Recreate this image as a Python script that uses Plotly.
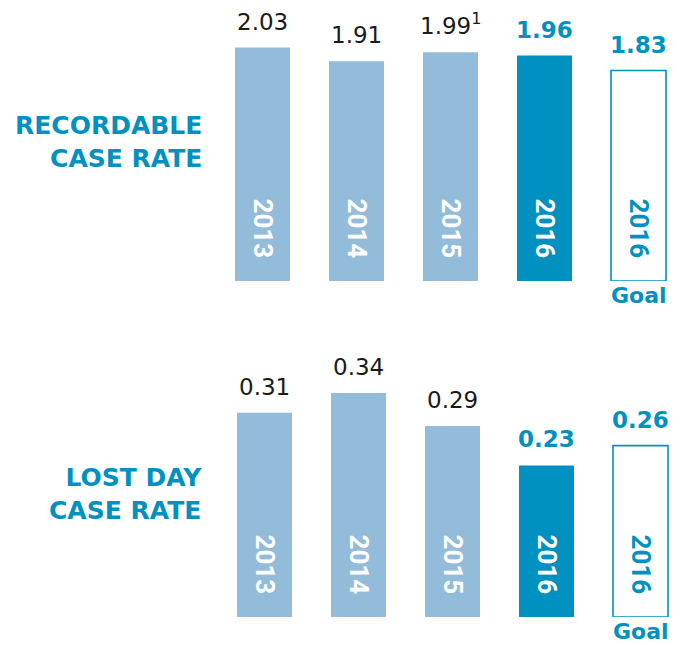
import plotly.graph_objects as go

# Safety metrics by year, plus the 2016 goal
categories = ["2013", "2014", "2015", "2016", "Goal"]
bar_labels = ["2013", "2014", "2015", "2016", "2016"]
recordable = [2.03, 1.91, 1.99, 1.96, 1.83]
recordable_text = ["2.03", "1.91", "1.99<sup>1</sup>", "1.96", "1.83"]
lost_day = [0.31, 0.34, 0.29, 0.23, 0.26]
lost_day_text = ["0.31", "0.34", "0.29", "0.23", "0.26"]

LIGHT = "#93BCDB"
DARK = "#0091C0"
TEXT_DARK = "#1a1a1a"

W, H = 681, 645

fill_colors = [LIGHT, LIGHT, LIGHT, DARK, "white"]
line_widths = [0, 0, 0, 0, 1.6]
value_colors = [TEXT_DARK, TEXT_DARK, TEXT_DARK, DARK, DARK]
value_bold = [False, False, False, True, True]
inner_colors = ["white", "white", "white", "white", DARK]

fig = go.Figure()

panels = [
    dict(values=recordable, texts=recordable_text, xa="x", ya="y", goal_shift=-1),
    dict(values=lost_day, texts=lost_day_text, xa="x2", ya="y2", goal_shift=-1),
]

for p in panels:
    fig.add_trace(go.Bar(
        x=categories, y=p["values"], xaxis=p["xa"], yaxis=p["ya"],
        marker=dict(color=fill_colors, line=dict(color=DARK, width=line_widths)),
        hoverinfo="skip", showlegend=False,
    ))

annotations = []
for p in panels:
    # category axes place annotations by category index
    for idx, (val, txt, col, bold, lab, icol) in enumerate(zip(
            p["values"], p["texts"], value_colors, value_bold,
            bar_labels, inner_colors)):
        # value above each bar
        annotations.append(dict(
            x=idx, y=val, xref=p["xa"], yref=p["ya"],
            text=("<b>%s</b>" % txt) if bold else txt,
            showarrow=False, yanchor="bottom", yshift=11,
            font=dict(family="DejaVu Sans", size=23, color=col),
        ))
        # rotated year inside each bar
        annotations.append(dict(
            x=idx, y=0, xref=p["xa"], yref=p["ya"], text="<b>%s</b>" % lab,
            showarrow=False, textangle=90, yanchor="middle", yshift=53,
            font=dict(family="Roboto", size=26, color=icol),
        ))
    # "Goal" caption under the goal bar
    annotations.append(dict(
        x=len(categories) - 1, y=0, xref=p["xa"], yref=p["ya"],
        text="<b>Goal</b>", showarrow=False, yanchor="top",
        yshift=p["goal_shift"], borderpad=0,
        font=dict(family="DejaVu Sans", size=22, color=DARK),
    ))

# panel titles
annotations.append(dict(
    x=204 / W, y=1 - 142 / H, xref="paper", yref="paper",
    text="<b>RECORDABLE<br>CASE RATE</b>", showarrow=False,
    xanchor="right", yanchor="middle", align="right",
    font=dict(family="DejaVu Sans", size=25, color=DARK),
))
annotations.append(dict(
    x=204 / W, y=1 - 494 / H, xref="paper", yref="paper",
    text="<b>LOST DAY<br>CASE RATE</b>", showarrow=False,
    xanchor="right", yanchor="middle", align="right",
    font=dict(family="DejaVu Sans", size=25, color=DARK),
))

# axis geometry: 94 px per category
x0_px = 0.3 * W
step = 94.0
span = (W - x0_px) / step
top_start = -(262.5 - x0_px) / step
bot_start = -(264.5 - x0_px) / step

hidden = dict(showticklabels=False, showgrid=False, zeroline=False,
              showline=False, ticks="", fixedrange=True)

fig.update_layout(
    width=W, height=H,
    margin=dict(l=0, r=0, t=0, b=0),
    paper_bgcolor="white", plot_bgcolor="white",
    bargap=0.415,
    xaxis=dict(domain=[0.3, 1], range=[top_start, top_start + span],
               anchor="y", type="category", **hidden),
    yaxis=dict(domain=[1 - 281 / H, 1.0], range=[0, 281 / 115.0],
               anchor="x", **hidden),
    xaxis2=dict(domain=[0.3, 1], range=[bot_start, bot_start + span],
                anchor="y2", type="category", **hidden),
    yaxis2=dict(domain=[1 - 617 / H, 1 - 330 / H], range=[0, 287 / 659.0],
                anchor="x2", **hidden),
    annotations=annotations,
)

fig.write_html("out.html")
